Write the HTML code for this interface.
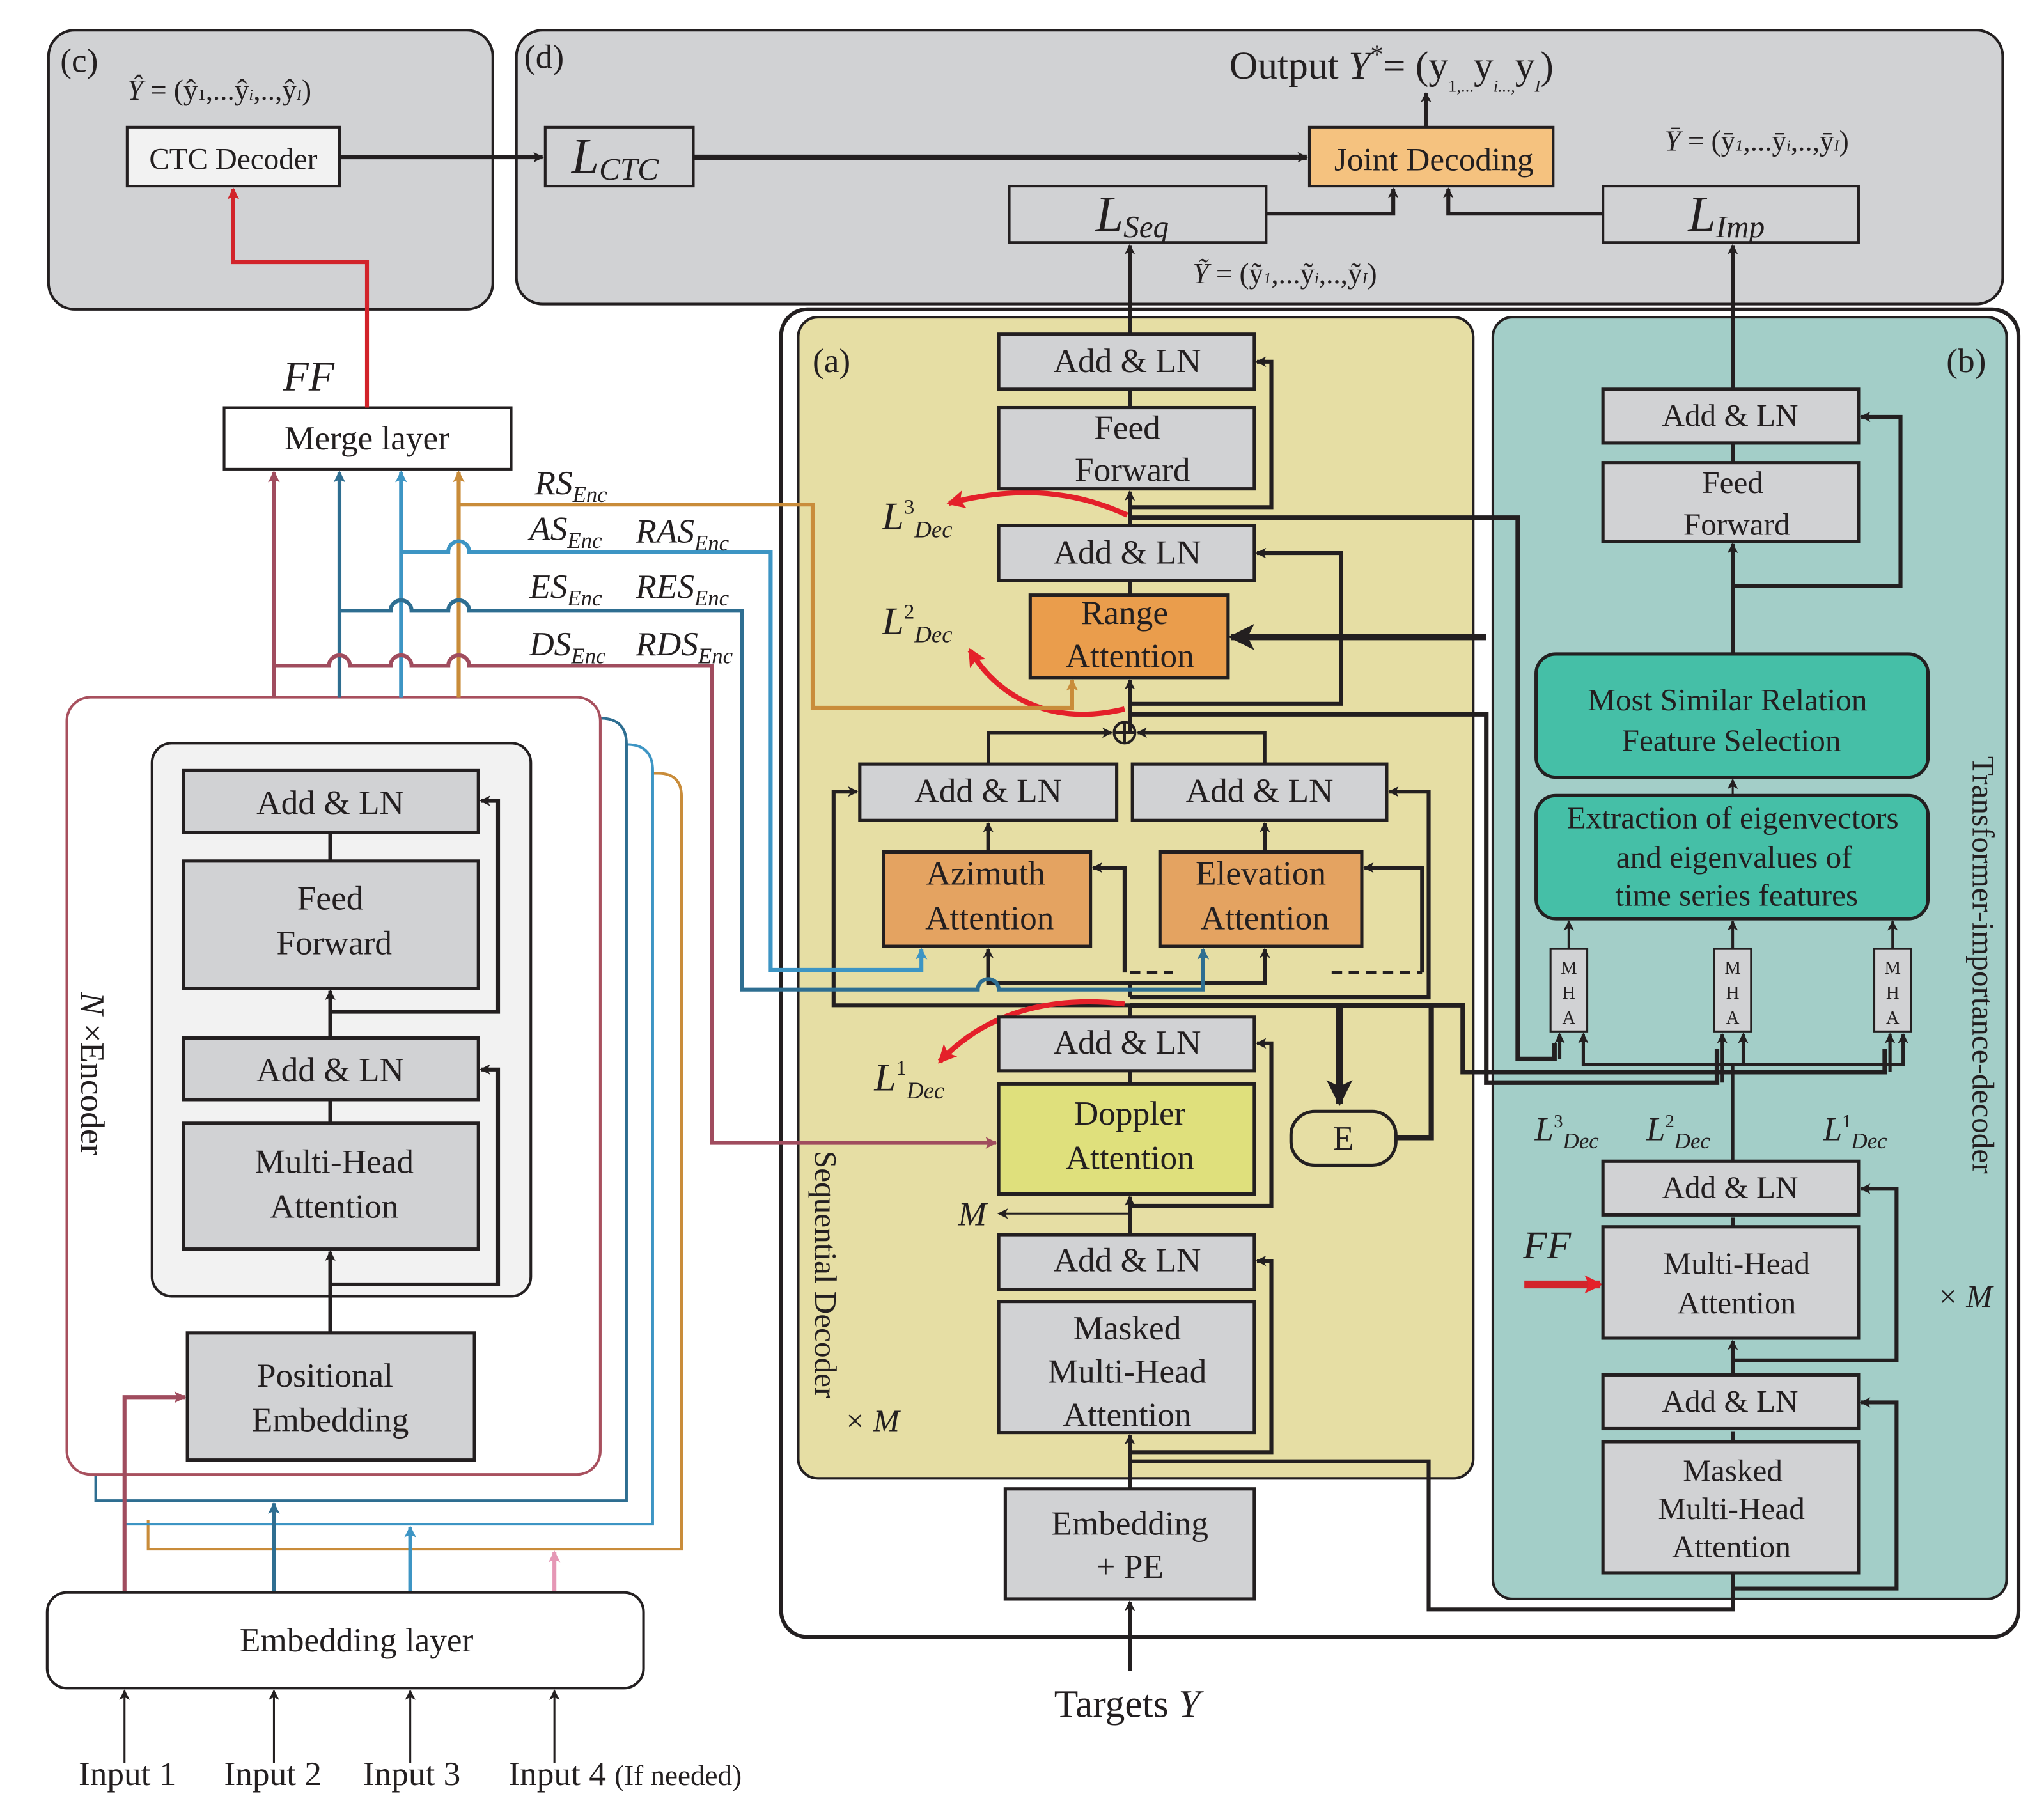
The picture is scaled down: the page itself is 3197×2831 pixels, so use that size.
<!DOCTYPE html>
<html><head><meta charset="utf-8"><style>
html,body{margin:0;padding:0;background:#fff}
svg{display:block}
text{font-family:"Liberation Serif",serif;fill:#231f20}
</style></head><body>
<svg width="3197" height="2831" viewBox="0 0 1559.5 1381" preserveAspectRatio="none" xmlns="http://www.w3.org/2000/svg">
<defs>
<marker id="ak" markerWidth="8" markerHeight="8" refX="7" refY="4" orient="auto" markerUnits="userSpaceOnUse"><path d="M0,0 L8,4 L0,8 L2,4z" fill="#231f20"/></marker>
<marker id="akb" markerWidth="20" markerHeight="20" refX="18" refY="10" orient="auto" markerUnits="userSpaceOnUse"><path d="M0,0 L20,10 L0,20 L5,10z" fill="#231f20"/></marker>
<marker id="ar" markerWidth="14" markerHeight="14" refX="12" refY="7" orient="auto" markerUnits="userSpaceOnUse"><path d="M0,0 L14,7 L0,14 L3,7z" fill="#e4202a"/></marker>
<marker id="ap" markerWidth="9" markerHeight="9" refX="8" refY="4.5" orient="auto" markerUnits="userSpaceOnUse"><path d="M0,0 L9,4.5 L0,9 L2,4.5z" fill="#a04c5e"/></marker>
<marker id="ab" markerWidth="9" markerHeight="9" refX="8" refY="4.5" orient="auto" markerUnits="userSpaceOnUse"><path d="M0,0 L9,4.5 L0,9 L2,4.5z" fill="#2e6e91"/></marker>
<marker id="al" markerWidth="9" markerHeight="9" refX="8" refY="4.5" orient="auto" markerUnits="userSpaceOnUse"><path d="M0,0 L9,4.5 L0,9 L2,4.5z" fill="#3d95c4"/></marker>
<marker id="ao" markerWidth="9" markerHeight="9" refX="8" refY="4.5" orient="auto" markerUnits="userSpaceOnUse"><path d="M0,0 L9,4.5 L0,9 L2,4.5z" fill="#c98c3a"/></marker>
<marker id="ai" markerWidth="9" markerHeight="9" refX="8" refY="4.5" orient="auto" markerUnits="userSpaceOnUse"><path d="M0,0 L9,4.5 L0,9 L2,4.5z" fill="#e597b5"/></marker>
<marker id="ar2" markerWidth="9" markerHeight="9" refX="8" refY="4.5" orient="auto" markerUnits="userSpaceOnUse"><path d="M0,0 L9,4.5 L0,9 L2,4.5z" fill="#d2232a"/></marker>
</defs>

<!-- (c) panel -->
<rect x="37" y="23" width="339" height="213" rx="20" fill="#d1d2d4" stroke="#231f20" stroke-width="2"/>
<text x="46" y="55" font-size="26">(c)</text>
<text x="97" y="76" font-size="22" font-style="italic">Ŷ <tspan font-style="normal">= (ŷ</tspan><tspan font-size="12" font-style="normal">1</tspan><tspan font-style="normal">,...ŷ</tspan><tspan font-size="12">i</tspan><tspan font-style="normal">,..,ŷ</tspan><tspan font-size="12">I</tspan><tspan font-style="normal">)</tspan></text>
<rect x="97" y="97" width="162" height="45" fill="#f2f2f2" stroke="#231f20" stroke-width="2"/>
<text x="178" y="129" font-size="23" text-anchor="middle">CTC Decoder</text>

<!-- (d) panel -->
<rect x="394" y="23" width="1134" height="209" rx="20" fill="#d1d2d4" stroke="#231f20" stroke-width="2"/>
<text x="400" y="52" font-size="26">(d)</text>
<text x="938" y="60" font-size="30">Output <tspan font-style="italic">Y</tspan><tspan dy="-12" font-size="20">*</tspan><tspan dy="12">= (y</tspan><tspan font-size="13" dy="10">1,...</tspan><tspan dy="-10">y</tspan><tspan font-size="13" dy="10" font-style="italic">i...,</tspan><tspan dy="-10">y</tspan><tspan font-size="13" dy="10" font-style="italic">I</tspan><tspan dy="-10">)</tspan></text>
<rect x="416" y="97" width="113" height="45" fill="#d1d2d4" stroke="#231f20" stroke-width="2"/>
<text x="436" y="132" font-size="38" font-style="italic">L<tspan font-size="24" dy="5">CTC</tspan></text>
<rect x="999" y="97" width="186" height="45" fill="#f5c27f" stroke="#231f20" stroke-width="2"/>
<text x="1094" y="130" font-size="25" text-anchor="middle">Joint Decoding</text>
<rect x="770" y="142" width="196" height="43" fill="#d1d2d4" stroke="#231f20" stroke-width="2"/>
<text x="836" y="176" font-size="38" font-style="italic">L<tspan font-size="24" dy="5">Seq</tspan></text>
<rect x="1223" y="142" width="195" height="43" fill="#d1d2d4" stroke="#231f20" stroke-width="2"/>
<text x="1288" y="176" font-size="38" font-style="italic">L<tspan font-size="24" dy="5">Imp</tspan></text>
<text x="1270" y="115" font-size="22" font-style="italic">Ȳ <tspan font-style="normal">= (ȳ</tspan><tspan font-size="12">1</tspan><tspan font-style="normal">,...ȳ</tspan><tspan font-size="12">i</tspan><tspan font-style="normal">,..,ȳ</tspan><tspan font-size="12">I</tspan><tspan font-style="normal">)</tspan></text>
<text x="910" y="216" font-size="22" font-style="italic">Ỹ <tspan font-style="normal">= (ỹ</tspan><tspan font-size="12">1</tspan><tspan font-style="normal">,...ỹ</tspan><tspan font-size="12">i</tspan><tspan font-style="normal">,..,ỹ</tspan><tspan font-size="12">I</tspan><tspan font-style="normal">)</tspan></text>
<g stroke="#231f20" fill="none">
<line x1="259" y1="120" x2="414" y2="120" stroke-width="3" marker-end="url(#ak)"/>
<line x1="529" y1="120" x2="997" y2="120" stroke-width="4" marker-end="url(#ak)"/>
<line x1="1088" y1="97" x2="1088" y2="71" stroke-width="2.5" marker-end="url(#ak)"/>
<polyline points="966,163 1063,163 1063,144" stroke-width="3" marker-end="url(#ak)"/>
<polyline points="1223,163 1105,163 1105,144" stroke-width="3" marker-end="url(#ak)"/>
</g>

<!-- big decoder frame -->
<rect x="596" y="236" width="944" height="1013" rx="20" fill="none" stroke="#231f20" stroke-width="3"/>
<rect x="609" y="242" width="515" height="886" rx="15" fill="#e6dea4" stroke="#231f20" stroke-width="2"/>
<rect x="1139" y="242" width="392" height="978" rx="15" fill="#a3cec8" stroke="#231f20" stroke-width="2"/>
<text x="620" y="284" font-size="26">(a)</text>
<text x="1485" y="284" font-size="26">(b)</text>

<!-- yellow panel black connectors -->
<g stroke="#231f20" fill="none" stroke-width="3">
<line x1="862" y1="1136" x2="862" y2="1095" marker-end="url(#ak)"/>
<line x1="862" y1="942" x2="862" y2="913" marker-end="url(#ak)"/>
<line x1="862" y1="827" x2="862" y2="817"/>
<line x1="862" y1="776" x2="862" y2="767"/>
<line x1="862" y1="558" x2="862" y2="519" marker-end="url(#ak)"/>
<line x1="862" y1="454" x2="862" y2="443"/>
<line x1="862" y1="401" x2="862" y2="375" marker-end="url(#ak)"/>
<line x1="862" y1="311" x2="862" y2="297"/>
<line x1="862" y1="255" x2="862" y2="187" marker-end="url(#ak)"/>
<polyline points="862,1100 862,1108 970,1108 970,962 959,962" marker-end="url(#ak)"/>
<polyline points="862,920 970,920 970,796 959,796" marker-end="url(#ak)"/>
<polyline points="862,387 970,387 970,276 959,276" marker-end="url(#ak)"/>
<polyline points="862,537 1023,537 1023,422 959,422" marker-end="url(#ak)"/>
<line x1="862" y1="926" x2="762" y2="926" stroke-width="1.5" marker-end="url(#ak)"/>
<circle cx="858" cy="559" r="8" stroke-width="2"/>
<line x1="850" y1="559" x2="866" y2="559" stroke-width="2"/>
<line x1="858" y1="551" x2="858" y2="567" stroke-width="2"/>
<polyline points="754,583 754,559 848,559" stroke-width="2.5" marker-end="url(#ak)"/>
<polyline points="965,583 965,559 868,559" stroke-width="2.5" marker-end="url(#ak)"/>
<line x1="754" y1="650" x2="754" y2="628" marker-end="url(#ak)"/>
<line x1="965" y1="650" x2="965" y2="628" marker-end="url(#ak)"/>
<polyline points="862,776 862,767 636,767 636,604 654,604" marker-end="url(#ak)"/>
<polyline points="754,724 754,750 965,750 965,724" marker-end="url(#ak)"/>
<line x1="754" y1="750" x2="754" y2="724" marker-end="url(#ak)"/>
<line x1="862" y1="761" x2="862" y2="750"/>
<polyline points="858,742 858,662 834,662" marker-end="url(#ak)"/>
<line x1="862" y1="742" x2="895" y2="742" stroke-dasharray="8,5" stroke-width="2.5"/>
<polyline points="1085,742 1085,662 1041,662" marker-end="url(#ak)"/>
<line x1="1016" y1="742" x2="1085" y2="742" stroke-dasharray="8,5" stroke-width="2.5"/>
<polyline points="862,761 1090,761 1090,604 1060,604" marker-end="url(#ak)"/>
<polyline points="862,767 1092,767 1092,868 1065,868" stroke-width="4"/>
<line x1="1022" y1="767" x2="1022" y2="842" stroke-width="5" marker-end="url(#akb)"/>
<polyline points="1134,486 939,486" stroke-width="5" marker-end="url(#akb)"/>
<polyline points="862,395 1158,395 1158,808 1186,808 1186,796" stroke-width="3.5"/>
<polyline points="862,545 1134,545 1134,826 1310,826 1310,800" stroke-width="3.5"/>
<polyline points="1080,767 1116,767 1116,818 1438,818 1438,800" stroke-width="3.5"/>
<line x1="1190" y1="808" x2="1190" y2="789" stroke-width="2.5" marker-end="url(#ak)"/>
<line x1="1314" y1="826" x2="1314" y2="789" stroke-width="2.5" marker-end="url(#ak)"/>
<line x1="1442" y1="818" x2="1442" y2="789" stroke-width="2.5" marker-end="url(#ak)"/>
<polyline points="862,1115 1090,1115 1090,1228 1322,1228 1322,1200" stroke-width="3"/>
<line x1="862" y1="1275" x2="862" y2="1222" stroke-width="3" marker-end="url(#ak)"/>
</g>

<g stroke="#e4202a" stroke-width="4" fill="none">
<path d="M860,393 C815,372 770,372 724,384" marker-end="url(#ar)"/>
<path d="M858,541 C800,555 760,530 740,496" marker-end="url(#ar)"/>
<path d="M858,766 C790,758 745,780 717,810" marker-end="url(#ar)"/>
</g>
<text x="673" y="404" font-size="30" font-style="italic">L<tspan font-size="16" dy="-12" font-style="normal">3</tspan><tspan font-size="18" dy="18">Dec</tspan></text>
<text x="673" y="484" font-size="30" font-style="italic">L<tspan font-size="16" dy="-12" font-style="normal">2</tspan><tspan font-size="18" dy="18">Dec</tspan></text>
<text x="667" y="832" font-size="30" font-style="italic">L<tspan font-size="16" dy="-12" font-style="normal">1</tspan><tspan font-size="18" dy="18">Dec</tspan></text>
<text x="731" y="935" font-size="26" font-style="italic">M</text>
<text x="644" y="1092" font-size="24" font-style="italic">× M</text>
<text x="0" y="0" font-size="24" transform="translate(622,878) rotate(90)">Sequential Decoder</text>

<g stroke="#231f20" stroke-width="2.5">
<rect x="762" y="255" width="195" height="42" fill="#d1d2d4"/>
<rect x="762" y="311" width="195" height="62" fill="#d1d2d4"/>
<rect x="762" y="401" width="195" height="42" fill="#d1d2d4"/>
<rect x="786" y="454" width="151" height="63" fill="#ea9d4c"/>
<rect x="656" y="583" width="196" height="43" fill="#d1d2d4"/>
<rect x="864" y="583" width="194" height="43" fill="#d1d2d4"/>
<rect x="674" y="650" width="158" height="72" fill="#e4a361"/>
<rect x="885" y="650" width="154" height="72" fill="#e4a361"/>
<rect x="762" y="776" width="195" height="41" fill="#d1d2d4"/>
<rect x="762" y="827" width="195" height="84" fill="#dfe07c"/>
<rect x="762" y="942" width="195" height="42" fill="#d1d2d4"/>
<rect x="762" y="993" width="195" height="100" fill="#d1d2d4"/>
<rect x="767" y="1136" width="190" height="84" fill="#d1d2d4"/>
<rect x="985" y="848" width="80" height="41" rx="18" fill="#e6dea4"/>
</g>
<g font-size="26" text-anchor="middle">
<text x="860" y="284">Add &amp; LN</text>
<text x="860" y="335">Feed</text><text x="864" y="367">Forward</text>
<text x="860" y="430">Add &amp; LN</text>
<text x="858" y="476">Range</text><text x="862" y="509">Attention</text>
<text x="754" y="612">Add &amp; LN</text>
<text x="961" y="612">Add &amp; LN</text>
<text x="752" y="675">Azimuth</text><text x="755" y="709">Attention</text>
<text x="962" y="675">Elevation</text><text x="965" y="709">Attention</text>
<text x="860" y="804">Add &amp; LN</text>
<text x="862" y="858">Doppler</text><text x="862" y="892">Attention</text>
<text x="860" y="970">Add &amp; LN</text>
<text x="860" y="1022">Masked</text><text x="860" y="1055">Multi-Head</text><text x="860" y="1088">Attention</text>
<text x="862" y="1171">Embedding</text><text x="862" y="1204">+ PE</text>
<text x="1025" y="877">E</text>
</g>
<text x="860" y="1310" font-size="30" text-anchor="middle">Targets <tspan font-style="italic">Y</tspan></text>

<!-- teal panel -->
<g stroke="#231f20" fill="none" stroke-width="3">
<line x1="1322" y1="297" x2="1322" y2="187" marker-end="url(#ak)"/>
<line x1="1322" y1="353" x2="1322" y2="338"/>
<line x1="1322" y1="499" x2="1322" y2="415" marker-end="url(#ak)"/>
<polyline points="1322,447 1450,447 1450,318 1420,318" marker-end="url(#ak)"/>
<line x1="1322" y1="607" x2="1322" y2="595" stroke-width="1.5" marker-end="url(#ak)"/>
<line x1="1197" y1="724" x2="1197" y2="703" stroke-width="2" marker-end="url(#ak)"/>
<line x1="1322" y1="724" x2="1322" y2="703" stroke-width="2" marker-end="url(#ak)"/>
<line x1="1444" y1="724" x2="1444" y2="703" stroke-width="2" marker-end="url(#ak)"/>
<polyline points="1322,886 1322,812 1208,812 1208,789" stroke-width="2.5" marker-end="url(#ak)"/>
<polyline points="1322,812 1452,812 1452,789" stroke-width="2.5" marker-end="url(#ak)"/>
<line x1="1330" y1="812" x2="1330" y2="789" stroke-width="2.5" marker-end="url(#ak)"/>
<line x1="1322" y1="936" x2="1322" y2="929"/>
<line x1="1322" y1="1049" x2="1322" y2="1023" marker-end="url(#ak)"/>
<polyline points="1322,1038 1447,1038 1447,907 1420,907" marker-end="url(#ak)"/>
<line x1="1322" y1="1100" x2="1322" y2="1092"/>
<polyline points="1322,1212 1447,1212 1447,1070 1420,1070" marker-end="url(#ak)"/>
</g>
<line x1="1163" y1="980" x2="1221" y2="980" stroke="#d2232a" stroke-width="6" marker-end="url(#ar)"/>
<g stroke="#231f20" stroke-width="2.5">
<rect x="1223" y="297" width="195" height="41" fill="#d1d2d4"/>
<rect x="1223" y="353" width="195" height="60" fill="#d1d2d4"/>
<rect x="1172" y="499" width="299" height="94" rx="15" fill="#45bfa7"/>
<rect x="1172" y="607" width="299" height="94" rx="15" fill="#45bfa7"/>
<rect x="1183" y="724" width="28" height="63" fill="#d1d2d4" stroke-width="1.5"/>
<rect x="1308" y="724" width="28" height="63" fill="#d1d2d4" stroke-width="1.5"/>
<rect x="1430" y="724" width="28" height="63" fill="#d1d2d4" stroke-width="1.5"/>
<rect x="1223" y="886" width="195" height="41" fill="#d1d2d4"/>
<rect x="1223" y="936" width="195" height="85" fill="#d1d2d4"/>
<rect x="1223" y="1049" width="195" height="41" fill="#d1d2d4"/>
<rect x="1223" y="1100" width="195" height="100" fill="#d1d2d4"/>
</g>
<g font-size="24" text-anchor="middle">
<text x="1320" y="325">Add &amp; LN</text>
<text x="1322" y="376">Feed</text><text x="1325" y="408">Forward</text>
<text x="1318" y="542">Most Similar Relation</text><text x="1321" y="573">Feature Selection</text>
<text x="1322" y="632">Extraction of eigenvectors</text><text x="1323" y="662">and eigenvalues of</text><text x="1325" y="691">time series features</text>
<text x="1320" y="914">Add &amp; LN</text>
<text x="1325" y="972">Multi-Head</text><text x="1325" y="1002">Attention</text>
<text x="1320" y="1077">Add &amp; LN</text>
<text x="1322" y="1130">Masked</text><text x="1321" y="1159">Multi-Head</text><text x="1321" y="1188">Attention</text>
</g>
<g font-size="14" text-anchor="middle">
<text x="1197" y="743">M</text><text x="1197" y="762">H</text><text x="1197" y="781">A</text>
<text x="1322" y="743">M</text><text x="1322" y="762">H</text><text x="1322" y="781">A</text>
<text x="1444" y="743">M</text><text x="1444" y="762">H</text><text x="1444" y="781">A</text>
</g>
<text x="1171" y="870" font-size="26" font-style="italic">L<tspan font-size="14" dy="-10" font-style="normal">3</tspan><tspan font-size="17" dy="16">Dec</tspan></text>
<text x="1256" y="870" font-size="26" font-style="italic">L<tspan font-size="14" dy="-10" font-style="normal">2</tspan><tspan font-size="17" dy="16">Dec</tspan></text>
<text x="1391" y="870" font-size="26" font-style="italic">L<tspan font-size="14" dy="-10" font-style="normal">1</tspan><tspan font-size="17" dy="16">Dec</tspan></text>
<text x="1162" y="960" font-size="30" font-style="italic">FF</text>
<text x="1478" y="997" font-size="24" font-style="italic">× M</text>
<text x="0" y="0" font-size="24" transform="translate(1505,577) rotate(90)">Transformer-importance-decoder</text>

<!-- encoder side -->
<rect x="171" y="311" width="219" height="47" fill="#fff" stroke="#231f20" stroke-width="2"/>
<text x="280" y="343" font-size="26" text-anchor="middle">Merge layer</text>
<text x="216" y="298" font-size="32" font-style="italic">FF</text>
<polyline points="280,311 280,200 178,200 178,144" fill="none" stroke="#d2232a" stroke-width="3" marker-end="url(#ar2)"/>

<path d="M113,1160 L113,1182 L520,1182 L520,608 Q520,590 502,590 L497,590" fill="none" stroke="#c98c3a" stroke-width="2"/>
<path d="M95,1140 L95,1163 L498,1163 L498,588 Q498,568 478,568" fill="none" stroke="#3d95c4" stroke-width="2"/>
<path d="M73,1120 L73,1145 L478,1145 L478,568 Q478,548 458,548" fill="none" stroke="#2e6e91" stroke-width="2"/>
<rect x="51" y="532" width="407" height="593" rx="18" fill="#fff" stroke="#a8505e" stroke-width="2"/>
<rect x="116" y="567" width="289" height="422" rx="15" fill="#f2f2f2" stroke="#231f20" stroke-width="2"/>
<g stroke="#231f20" fill="none" stroke-width="3">
<line x1="252" y1="1017" x2="252" y2="955" marker-end="url(#ak)"/>
<polyline points="252,980 380,980 380,816 367,816" marker-end="url(#ak)"/>
<line x1="252" y1="857" x2="252" y2="839"/>
<line x1="252" y1="792" x2="252" y2="756" marker-end="url(#ak)"/>
<polyline points="252,772 380,772 380,611 367,611" marker-end="url(#ak)"/>
<line x1="252" y1="657" x2="252" y2="635"/>
</g>
<g stroke="#231f20" stroke-width="2.5" fill="#d1d2d4">
<rect x="140" y="588" width="225" height="47"/>
<rect x="140" y="657" width="225" height="97"/>
<rect x="140" y="792" width="225" height="47"/>
<rect x="140" y="857" width="225" height="96"/>
<rect x="143" y="1017" width="219" height="97"/>
</g>
<g font-size="26" text-anchor="middle">
<text x="252" y="621">Add &amp; LN</text>
<text x="252" y="694">Feed</text><text x="255" y="728">Forward</text>
<text x="252" y="825">Add &amp; LN</text>
<text x="255" y="895">Multi-Head</text><text x="255" y="929">Attention</text>
<text x="248" y="1058">Positional</text><text x="252" y="1092">Embedding</text>
</g>
<text x="0" y="0" font-size="26" transform="translate(62,757) rotate(90)"><tspan font-style="italic">N</tspan> ×</text>
<text x="0" y="0" font-size="26" transform="translate(62,795) rotate(90)">Encoder</text>

<g fill="none" stroke-width="3">
<line x1="209" y1="532" x2="209" y2="360" stroke="#a04c5e" marker-end="url(#ap)"/>
<line x1="259" y1="532" x2="259" y2="360" stroke="#2e6e91" marker-end="url(#ab)"/>
<line x1="306" y1="532" x2="306" y2="360" stroke="#3d95c4" marker-end="url(#al)"/>
<line x1="350" y1="532" x2="350" y2="360" stroke="#c98c3a" marker-end="url(#ao)"/>
<polyline points="350,385 620,385 620,540 818,540 818,519" stroke="#c98c3a" marker-end="url(#ao)"/>
<path d="M306,421 L342,421 A8,8 0 0 1 358,421 L588,421 L588,740 L703,740 L703,724" stroke="#3d95c4" marker-end="url(#al)"/>
<path d="M259,466 L298,466 A8,8 0 0 1 314,466 L342,466 A8,8 0 0 1 358,466 L566,466 L566,755 L746,755 A8,8 0 0 1 762,755 L918,755 L918,724" stroke="#2e6e91" marker-end="url(#ab)"/>
<path d="M209,508 L251,508 A8,8 0 0 1 267,508 L298,508 A8,8 0 0 1 314,508 L342,508 A8,8 0 0 1 358,508 L543,508 L543,872 L760,872" stroke="#a04c5e" marker-end="url(#ap)"/>
<polyline points="95,1215 95,1066 141,1066" stroke="#a04c5e" marker-end="url(#ap)"/>
<line x1="209" y1="1215" x2="209" y2="1147" stroke="#2e6e91" marker-end="url(#ab)"/>
<line x1="313" y1="1215" x2="313" y2="1165" stroke="#3d95c4" marker-end="url(#al)"/>
<line x1="423" y1="1215" x2="423" y2="1184" stroke="#e597b5" marker-end="url(#ai)"/>
</g>
<g font-size="26" font-style="italic">
<text x="408" y="377">RS<tspan font-size="17" dy="6">Enc</tspan></text>
<text x="404" y="412">AS<tspan font-size="17" dy="6">Enc</tspan></text>
<text x="485" y="414">RAS<tspan font-size="17" dy="6">Enc</tspan></text>
<text x="404" y="456">ES<tspan font-size="17" dy="6">Enc</tspan></text>
<text x="485" y="456">RES<tspan font-size="17" dy="6">Enc</tspan></text>
<text x="404" y="500">DS<tspan font-size="17" dy="6">Enc</tspan></text>
<text x="485" y="500">RDS<tspan font-size="17" dy="6">Enc</tspan></text>
</g>

<rect x="36" y="1215" width="455" height="73" rx="15" fill="#fff" stroke="#231f20" stroke-width="2"/>
<text x="272" y="1260" font-size="26" text-anchor="middle">Embedding layer</text>
<g stroke="#231f20" stroke-width="1.5">
<line x1="95" y1="1345" x2="95" y2="1290" marker-end="url(#ak)"/>
<line x1="209" y1="1345" x2="209" y2="1290" marker-end="url(#ak)"/>
<line x1="313" y1="1345" x2="313" y2="1290" marker-end="url(#ak)"/>
<line x1="423" y1="1345" x2="423" y2="1290" marker-end="url(#ak)"/>
</g>
<g font-size="26">
<text x="60" y="1362">Input 1</text>
<text x="171" y="1362">Input 2</text>
<text x="277" y="1362">Input 3</text>
<text x="388" y="1362">Input 4 <tspan font-size="22">(If needed)</tspan></text>
</g>
</svg>
</body></html>
